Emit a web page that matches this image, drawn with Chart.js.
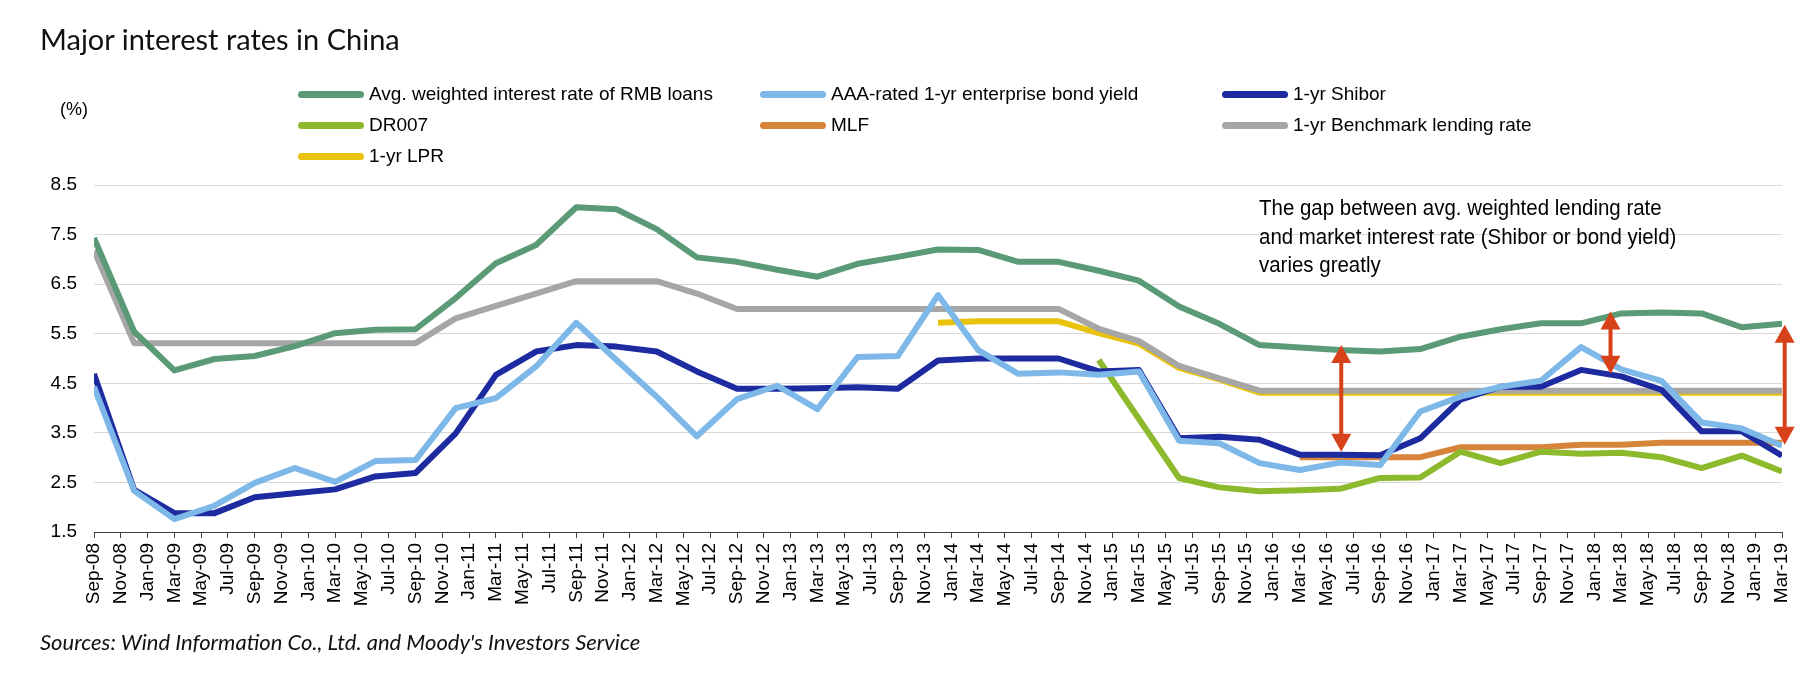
<!DOCTYPE html>
<html>
<head>
<meta charset="utf-8">
<script src="https://cdn.jsdelivr.net/npm/chart.js@4.4.1/dist/chart.umd.min.js"></script>
<style>
  body { margin: 0; background: #fff; }
  #wrap { position: relative; width: 1819px; height: 674px; overflow: hidden; }
  #chart { position: absolute; left: 0; top: 0; }
  .title { position: absolute; left: 40px; top: 21px; font: 400 29px Lato, sans-serif; color: #111; white-space: nowrap; }
  .unit { position: absolute; left: 60px; top: 99px; font: 18px "Liberation Sans", Arial, sans-serif; color: #000; }
  .legend-item { position: absolute; height: 24px; display: flex; align-items: center; font: 19px "Liberation Sans", Arial, sans-serif; color: #000; white-space: nowrap; }
  .legend-item span.swatch { display: inline-block; width: 66px; height: 7px; border-radius: 3.5px; margin-right: 5px; }
  .note { position: absolute; left: 1259px; top: 194px; font: 22px "Liberation Sans", Arial, sans-serif; line-height: 28.5px; color: #000; white-space: nowrap; transform: scaleX(0.93); transform-origin: left top; }
  .source { position: absolute; left: 40px; top: 628px; font: italic 22px Lato, sans-serif; color: #111; white-space: nowrap; }
</style>
</head>
<body>
<div id="wrap">
  <canvas id="chart" width="1819" height="674"></canvas>
  <div class="title">Major interest rates in China</div>
  <div class="unit">(%)</div>
  <div id="legend"></div>
  <div class="note">The gap between avg. weighted lending rate<br>and market interest rate (Shibor or bond yield)<br>varies greatly</div>
  <div class="source">Sources: Wind Information Co., Ltd. and Moody's Investors Service</div>
</div>
<script>
// quarterly observations, Sep-08 .. Mar-19
const quarters = ['Sep-08','Dec-08',
  'Mar-09','Jun-09','Sep-09','Dec-09','Mar-10','Jun-10','Sep-10','Dec-10',
  'Mar-11','Jun-11','Sep-11','Dec-11','Mar-12','Jun-12','Sep-12','Dec-12',
  'Mar-13','Jun-13','Sep-13','Dec-13','Mar-14','Jun-14','Sep-14','Dec-14',
  'Mar-15','Jun-15','Sep-15','Dec-15','Mar-16','Jun-16','Sep-16','Dec-16',
  'Mar-17','Jun-17','Sep-17','Dec-17','Mar-18','Jun-18','Sep-18','Dec-18',
  'Mar-19'];

// x axis labels, every 2 months
const tickLabels = ['Sep-08','Nov-08',
  'Jan-09','Mar-09','May-09','Jul-09','Sep-09','Nov-09',
  'Jan-10','Mar-10','May-10','Jul-10','Sep-10','Nov-10',
  'Jan-11','Mar-11','May-11','Jul-11','Sep-11','Nov-11',
  'Jan-12','Mar-12','May-12','Jul-12','Sep-12','Nov-12',
  'Jan-13','Mar-13','May-13','Jul-13','Sep-13','Nov-13',
  'Jan-14','Mar-14','May-14','Jul-14','Sep-14','Nov-14',
  'Jan-15','Mar-15','May-15','Jul-15','Sep-15','Nov-15',
  'Jan-16','Mar-16','May-16','Jul-16','Sep-16','Nov-16',
  'Jan-17','Mar-17','May-17','Jul-17','Sep-17','Nov-17',
  'Jan-18','Mar-18','May-18','Jul-18','Sep-18','Nov-18',
  'Jan-19','Mar-19'];

const yTicks = [1.5, 2.5, 3.5, 4.5, 5.5, 6.5, 7.5, 8.5];

const avgLoanRate = [7.43, 5.54, 4.76, 4.99, 5.05, 5.25, 5.51, 5.58, 5.59, 6.22,
  6.92, 7.29, 8.05, 8.01, 7.61, 7.04, 6.95, 6.79, 6.65, 6.91,
  7.05, 7.20, 7.19, 6.95, 6.95, 6.77, 6.57, 6.05, 5.70, 5.27,
  5.22, 5.17, 5.14, 5.19, 5.44, 5.59, 5.71, 5.71, 5.91, 5.93,
  5.91, 5.63, 5.70];

const aaaBondYield = [4.43, 2.33, 1.76, 2.03, 2.49, 2.79, 2.51, 2.93, 2.95, 4.00,
  4.20, 4.84, 5.72, 4.97, 4.23, 3.43, 4.18, 4.45, 3.98, 5.03,
  5.05, 6.28, 5.17, 4.69, 4.72, 4.67, 4.74, 3.34, 3.29, 2.89,
  2.75, 2.90, 2.85, 3.93, 4.23, 4.43, 4.55, 5.23, 4.78, 4.55,
  3.71, 3.59, 3.24];

const shibor1y = [4.69, 2.35, 1.88, 1.88, 2.20, 2.28, 2.36, 2.62, 2.69, 3.49,
  4.67, 5.14, 5.27, 5.24, 5.14, 4.74, 4.39, 4.39, 4.40, 4.42,
  4.39, 4.96, 5.00, 5.00, 5.00, 4.74, 4.77, 3.39, 3.42, 3.36,
  3.06, 3.06, 3.05, 3.39, 4.17, 4.43, 4.43, 4.77, 4.64, 4.37,
  3.53, 3.53, 3.04];

const dr007 = [null, null, null, null, null, null, null, null, null, null,
  null, null, null, null, null, null, null, null, null, null,
  null, null, null, null, null, 4.97, 3.78, 2.59, 2.40, 2.32,
  2.34, 2.37, 2.59, 2.60, 3.12, 2.89, 3.12, 3.08, 3.10, 3.01,
  2.79, 3.04, 2.72];

const mlf = [null, null, null, null, null, null, null, null, null, null,
  null, null, null, null, null, null, null, null, null, null,
  null, null, null, null, null, null, null, null, null, null,
  3.01, 3.01, 3.01, 3.01, 3.21, 3.21, 3.21, 3.26, 3.26, 3.30,
  3.30, 3.30, 3.30];

const benchmarkRate = [7.18, 5.31, 5.31, 5.31, 5.31, 5.31, 5.31, 5.31, 5.31, 5.81,
  6.06, 6.31, 6.56, 6.56, 6.56, 6.31, 6.00, 6.00, 6.00, 6.00,
  6.00, 6.00, 6.00, 6.00, 6.00, 5.60, 5.35, 4.85, 4.60, 4.35,
  4.35, 4.35, 4.35, 4.35, 4.35, 4.35, 4.35, 4.35, 4.35, 4.35,
  4.35, 4.35, 4.35];

const lpr1y = [null, null, null, null, null, null, null, null, null, null,
  null, null, null, null, null, null, null, null, null, null,
  null, 5.72, 5.75, 5.75, 5.75, 5.51, 5.30, 4.81, 4.58, 4.31,
  4.31, 4.31, 4.31, 4.31, 4.31, 4.31, 4.31, 4.31, 4.31, 4.31,
  4.31, 4.31, 4.31];

// gap arrows: month index from Sep-08, top and bottom values
const arrowMonths = [93.1, 113.2, 126.2];
const arrowTop = [5.27, 5.95, 5.68];
const arrowBottom = [3.12, 4.69, 3.26];

const series = [
  { label: 'Avg. weighted interest rate of RMB loans', data: avgLoanRate, color: '#5B9A76', col: 0, row: 0 },
  { label: 'AAA-rated 1-yr enterprise bond yield', data: aaaBondYield, color: '#7DB8E8', col: 1, row: 0 },
  { label: '1-yr Shibor', data: shibor1y, color: '#1E2BA0', col: 2, row: 0 },
  { label: 'DR007', data: dr007, color: '#8CBA2C', col: 0, row: 1 },
  { label: 'MLF', data: mlf, color: '#D6843A', col: 1, row: 1 },
  { label: '1-yr Benchmark lending rate', data: benchmarkRate, color: '#A6A6A6', col: 2, row: 1 },
  { label: '1-yr LPR', data: lpr1y, color: '#E8C20C', col: 0, row: 2 }
];

// legend (3 columns)
const legendCols = [298, 760, 1222];
const legendRows = [82, 113, 144];
const legendEl = document.getElementById('legend');
series.forEach(s => {
  const d = document.createElement('div');
  d.className = 'legend-item';
  d.style.left = legendCols[s.col] + 'px';
  d.style.top = legendRows[s.row] + 'px';
  d.innerHTML = '<span class="swatch" style="background:' + s.color + '"></span>' + s.label;
  legendEl.appendChild(d);
});

const arrowPlugin = {
  id: 'gapArrows',
  afterDatasetsDraw(chart) {
    const ctx = chart.ctx;
    const xs = chart.scales.x, ys = chart.scales.y;
    const head = 18, half = 10;
    ctx.save();
    ctx.fillStyle = '#D8421A';
    ctx.strokeStyle = '#D8421A';
    ctx.lineWidth = 4;
    arrowMonths.forEach((m, i) => {
      const x = xs.getPixelForValue(m);
      const y1 = ys.getPixelForValue(arrowTop[i]);
      const y2 = ys.getPixelForValue(arrowBottom[i]);
      ctx.beginPath();
      ctx.moveTo(x, y1 + head - 2);
      ctx.lineTo(x, y2 - head + 2);
      ctx.stroke();
      ctx.beginPath();
      ctx.moveTo(x, y1);
      ctx.lineTo(x - half, y1 + head);
      ctx.lineTo(x + half, y1 + head);
      ctx.closePath();
      ctx.fill();
      ctx.beginPath();
      ctx.moveTo(x, y2);
      ctx.lineTo(x - half, y2 - head);
      ctx.lineTo(x + half, y2 - head);
      ctx.closePath();
      ctx.fill();
    });
    ctx.restore();
  }
};

const axisFont = { family: '"Liberation Sans", Arial, sans-serif', size: 19 };

new Chart(document.getElementById('chart'), {
  type: 'line',
  data: {
    datasets: series.map((s, k) => ({
      label: s.label,
      data: quarters.map((q, i) => ({ x: i * 3, y: s.data[i] })),
      borderColor: s.color,
      backgroundColor: s.color,
      borderWidth: 6,
      pointRadius: 0,
      tension: 0,
      borderJoinStyle: 'round',
      order: k
    }))
  },
  options: {
    responsive: false,
    animation: false,
    layout: { padding: { left: 0, right: 37, top: 185, bottom: 0 } },
    plugins: { legend: { display: false }, tooltip: { enabled: false } },
    scales: {
      x: {
        type: 'linear',
        min: 0,
        max: 126,
        afterFit(scale) { scale.height = 142; },
        afterBuildTicks(scale) {
          scale.ticks = tickLabels.map((t, i) => ({ value: i * 2 }));
        },
        grid: { drawOnChartArea: false, drawTicks: true, tickLength: 6, color: '#404040' },
        border: { color: '#404040', width: 1 },
        ticks: {
          autoSkip: false,
          minRotation: 90,
          maxRotation: 90,
          padding: 5,
          color: '#000',
          font: axisFont,
          callback: (v) => tickLabels[Math.round(v / 2)]
        }
      },
      y: {
        min: 1.5,
        max: 8.5,
        afterFit(scale) { scale.width = 94; },
        afterBuildTicks(scale) {
          scale.ticks = yTicks.map(v => ({ value: v }));
        },
        grid: { color: '#D9D9D9', lineWidth: 1, drawTicks: false },
        border: { display: false },
        ticks: {
          padding: 17,
          color: '#000',
          font: axisFont,
          callback: (v) => v.toFixed(1)
        }
      }
    }
  },
  plugins: [arrowPlugin]
});
</script>
</body>
</html>
